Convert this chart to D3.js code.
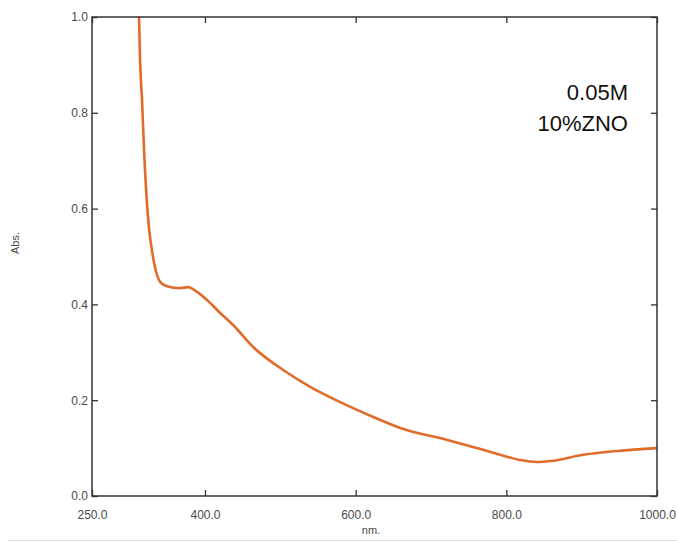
<!DOCTYPE html>
<html>
<head>
<meta charset="utf-8">
<script src="https://cdn.jsdelivr.net/npm/d3@7"></script>
<style>
html,body{margin:0;padding:0;background:#fff;}
svg{display:block;}
</style>
</head>
<body>
<svg id="chart" width="677" height="544"></svg>
<script>
// Data
const wavelength = [312.4, 313.8, 316.4, 319.1, 322.7, 325.7, 329.3, 333.0, 337.0, 341.0, 349.6, 366.9, 377.5, 389.5, 406.8, 420.1, 437.3, 463.9, 503.8, 539.6, 579.5, 623.3, 659.2, 721.7, 765.5, 792.1, 818.6, 840, 858.5, 902.3, 947.5, 1000];
const absorbance = [1.000, 0.910, 0.827, 0.722, 0.618, 0.558, 0.516, 0.482, 0.458, 0.446, 0.438, 0.434, 0.436, 0.426, 0.403, 0.382, 0.357, 0.311, 0.263, 0.228, 0.196, 0.165, 0.142, 0.117, 0.098, 0.086, 0.075, 0.071, 0.073, 0.086, 0.094, 0.100];
const xTicks = [250, 400, 600, 800, 1000];
const yTicks = [0.0, 0.2, 0.4, 0.6, 0.8, 1.0];
const annotation = ["0.05M", "10%ZNO"];
const xLabel = "nm.";
const yLabel = "Abs.";

const svg = d3.select("#chart");
const m = {left: 92, top: 17, right: 657, bottom: 496};
const x = d3.scaleLinear().domain([250, 1000]).range([m.left, m.right]);
const y = d3.scaleLinear().domain([0, 1]).range([m.bottom, m.top]);

const fmt = d3.format(".1f");
const font = "'Liberation Sans', Arial, sans-serif";

// faint page line at bottom
svg.append("line").attr("x1", 8).attr("x2", 677).attr("y1", 540.5).attr("y2", 540.5)
  .attr("stroke", "#e2e2e2").attr("stroke-width", 1);

// clip
svg.append("clipPath").attr("id", "clip").append("rect")
  .attr("x", m.left).attr("y", m.top).attr("width", m.right - m.left).attr("height", m.bottom - m.top);

// curve
const line = d3.line().x((d, i) => x(wavelength[i])).y((d, i) => y(absorbance[i])).curve(d3.curveMonotoneX);
svg.append("path").datum(absorbance)
  .attr("clip-path", "url(#clip)")
  .attr("d", line)
  .attr("fill", "none")
  .attr("stroke", "#E16B2B")
  .attr("stroke-width", 2.6)
  .attr("stroke-linejoin", "round");

function styleAxis(g) {
  g.select(".domain").remove();
  g.selectAll(".tick line").attr("stroke", "#333").attr("stroke-width", 1.3);
  g.selectAll(".tick text").attr("fill", "#4a4a4a").attr("font-family", font).attr("font-size", 12);
}

svg.append("g").attr("transform", `translate(0,${m.bottom})`)
  .call(d3.axisBottom(x).tickValues(xTicks).tickFormat(fmt).tickSizeInner(-6).tickSizeOuter(0).tickPadding(14))
  .call(styleAxis);
svg.append("g").attr("transform", `translate(0,${m.top})`)
  .call(d3.axisTop(x).tickValues(xTicks).tickFormat("").tickSizeInner(-6).tickSizeOuter(0))
  .call(styleAxis);
svg.append("g").attr("transform", `translate(${m.left},0)`)
  .call(d3.axisLeft(y).tickValues(yTicks).tickFormat(fmt).tickSizeInner(-6).tickSizeOuter(0).tickPadding(4))
  .call(styleAxis);
svg.append("g").attr("transform", `translate(${m.right},0)`)
  .call(d3.axisRight(y).tickValues(yTicks).tickFormat("").tickSizeInner(-6).tickSizeOuter(0))
  .call(styleAxis);

// frame
svg.append("rect").attr("x", m.left).attr("y", m.top)
  .attr("width", m.right - m.left).attr("height", m.bottom - m.top)
  .attr("fill", "none").attr("stroke", "#333").attr("stroke-width", 1.5);

// axis labels
svg.append("text").attr("x", 371).attr("y", 534).attr("text-anchor", "middle")
  .attr("font-family", font).attr("font-size", 11).attr("fill", "#4a4a4a").text(xLabel);
svg.append("text").attr("transform", "translate(19,243) rotate(-90)").attr("text-anchor", "middle")
  .attr("font-family", font).attr("font-size", 11).attr("fill", "#4a4a4a").text(yLabel);

// annotation
svg.append("g").selectAll("text").data(annotation).join("text")
  .attr("x", 628).attr("y", (d, i) => 100 + i * 31)
  .attr("text-anchor", "end")
  .attr("font-family", font).attr("font-size", 22).attr("fill", "#111")
  .text(d => d);
</script>
</body>
</html>
